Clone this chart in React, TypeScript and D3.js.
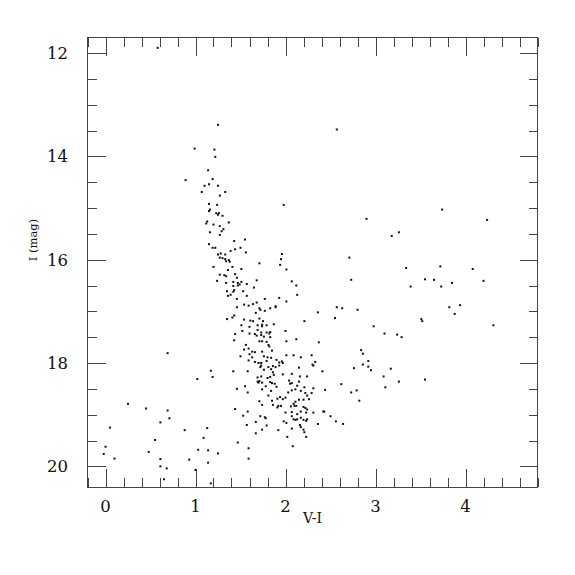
import React from 'react';
import * as d3 from 'd3';

// [V-I, I] pairs
const upperBranch: [number, number][] = [
  [0.58, 11.9], [1.25, 13.39], [0.99, 13.85], [1.21, 13.87], [1.22, 14.01], [1.14, 14.27],
  [0.89, 14.46], [1.19, 14.44], [1.15, 14.54], [1.1, 14.57], [1.25, 14.57], [1.07, 14.69],
  [1.33, 14.69], [1.27, 14.76], [1.15, 14.92], [1.24, 14.94], [1.16, 15.03], [1.15, 15.06],
  [1.23, 15.1], [1.26, 15.1], [1.25, 15.13], [1.3, 15.15], [1.13, 15.26], [1.12, 15.3],
  [1.2, 15.32], [1.37, 15.28], [1.27, 15.35], [1.31, 15.41],
];

const midBranch: [number, number][] = [
  [1.29, 15.45], [1.16, 15.47], [1.27, 15.52], [1.43, 15.64], [1.55, 15.61], [1.15, 15.7],
  [1.19, 15.77], [1.22, 15.77], [1.44, 15.8], [1.5, 15.77], [1.39, 15.83], [1.56, 15.86],
  [1.25, 15.9], [1.28, 15.88], [1.33, 15.9], [1.27, 15.96], [1.3, 15.97], [1.33, 15.99],
  [1.37, 16.01], [1.38, 16.04], [1.34, 16.03], [1.71, 16.07], [1.2, 16.14], [1.41, 16.14],
  [1.36, 16.2], [1.51, 16.18], [1.27, 16.29], [1.32, 16.3], [1.34, 16.32], [1.44, 16.28],
  [1.46, 16.35], [1.24, 16.41], [1.34, 16.45], [1.42, 16.43], [1.47, 16.45], [1.49, 16.48],
  [1.51, 16.43], [1.47, 16.5], [1.42, 16.51], [1.57, 16.47], [1.68, 16.4], [1.65, 16.54],
  [1.35, 16.61], [1.42, 16.62], [1.43, 16.59], [1.39, 16.68], [1.36, 16.7], [1.53, 16.61],
  [1.57, 16.7], [1.46, 16.76], [1.77, 16.76], [1.93, 16.74], [1.54, 16.87], [1.59, 16.89],
  [1.64, 16.86], [1.68, 16.83], [1.46, 16.92], [1.71, 16.94], [1.72, 16.97], [1.77, 16.99],
  [1.83, 16.94], [1.89, 16.92], [1.89, 16.9], [1.67, 17.03], [1.35, 17.15], [1.41, 17.12],
  [1.43, 17.08], [1.54, 17.16], [1.61, 17.18], [1.64, 17.19], [1.71, 17.14], [1.75, 17.19],
  [1.51, 17.27], [1.6, 17.3], [1.69, 17.27], [1.74, 17.26], [1.74, 17.29], [1.79, 17.27],
  [1.87, 17.25], [1.52, 17.38], [1.69, 17.36], [1.73, 17.41], [1.79, 17.41], [1.82, 17.43],
  [1.83, 17.4], [1.44, 17.44], [1.6, 17.43], [1.66, 17.44], [1.68, 17.47], [1.73, 17.46],
  [1.76, 17.49], [1.83, 17.5], [0.69, 17.81],
  [1.96, 15.89], [1.95, 15.99], [1.94, 16.1], [2.01, 16.19], [2.07, 16.42], [2.12, 16.5],
  [2.13, 16.68], [2.01, 16.81], [2.36, 17.02], [2.55, 17.13], [2.21, 17.19], [2.0, 17.38],
  [2.12, 17.54], [1.98, 14.94],
];

const clump: [number, number][] = [
  [1.43, 17.56], [1.71, 17.58], [1.74, 17.58], [1.79, 17.59], [2.01, 17.58], [2.37, 17.6],
  [1.81, 17.65], [1.56, 17.65], [1.82, 17.68], [1.59, 17.72], [1.54, 17.74], [1.63, 17.78],
  [1.66, 17.79], [1.74, 17.78], [1.85, 17.76], [1.6, 17.83], [1.5, 17.87], [1.63, 17.89],
  [1.76, 17.87], [1.8, 17.89], [1.84, 17.9], [2.01, 17.85], [2.09, 17.85], [2.17, 17.89],
  [2.29, 17.85], [1.59, 17.95], [1.66, 17.98], [1.7, 18.0], [1.73, 18.0], [1.79, 17.96],
  [1.9, 17.94], [1.93, 17.99], [1.96, 17.97], [1.97, 18.0], [1.93, 18.05], [1.86, 18.06],
  [1.73, 18.05], [1.72, 18.08], [1.81, 18.08], [1.89, 18.08], [2.3, 18.03], [2.31, 18.05],
  [2.33, 17.98], [2.15, 18.09], [1.17, 18.15], [1.42, 18.16], [1.58, 18.16], [1.76, 18.13],
  [1.84, 18.12], [1.86, 18.18], [1.87, 18.23], [1.97, 18.22], [2.07, 18.21], [2.16, 18.26],
  [2.24, 18.26], [2.41, 18.16], [1.19, 18.27], [1.69, 18.28], [1.73, 18.26], [1.8, 18.29],
  [1.83, 18.27], [1.71, 18.35], [1.69, 18.36], [1.7, 18.38], [1.74, 18.38], [1.83, 18.37],
  [1.85, 18.39], [1.88, 18.4], [1.78, 18.45], [2.04, 18.34], [2.05, 18.4], [2.07, 18.39],
  [2.15, 18.36], [2.13, 18.44], [2.21, 18.47], [2.31, 18.49], [2.44, 18.52], [1.55, 18.45],
  [1.46, 18.5], [1.58, 18.57], [1.74, 18.51], [1.84, 18.54], [1.9, 18.46], [2.03, 18.57],
  [2.07, 18.53], [2.11, 18.51], [2.17, 18.54], [2.22, 18.58], [2.24, 18.63], [2.29, 18.58],
  [2.0, 18.67], [1.97, 18.7], [1.91, 18.69], [1.94, 18.66], [1.85, 18.73], [1.81, 18.63],
  [2.15, 18.71], [2.2, 18.71], [2.26, 18.7], [1.71, 18.74], [2.11, 18.75], [2.09, 18.79],
  [1.74, 18.81], [1.86, 18.81], [1.92, 18.83], [1.95, 18.83], [1.91, 18.86], [2.06, 18.84],
  [2.1, 18.83], [2.12, 18.83], [2.2, 18.85], [2.22, 18.87], [2.24, 18.9], [2.31, 18.96],
  [2.42, 18.94], [2.43, 18.94], [1.44, 18.89], [1.58, 18.94], [1.53, 19.02], [2.0, 18.96],
  [2.07, 18.95], [2.07, 19.03], [2.13, 18.99], [2.17, 18.94], [2.23, 18.96], [1.72, 19.03],
  [1.77, 19.05], [1.78, 19.07], [1.98, 19.13], [2.01, 19.16], [2.09, 19.09], [2.11, 19.1],
  [2.13, 19.09], [2.17, 19.06], [2.2, 19.1], [2.23, 19.12], [2.24, 19.09], [2.16, 19.2],
  [2.17, 19.24], [2.36, 19.18], [1.57, 19.2], [1.67, 19.14], [1.79, 19.21], [1.92, 19.3],
  [1.74, 19.29], [1.67, 19.36], [2.2, 19.29], [2.21, 19.34], [2.23, 19.43], [2.07, 19.27],
  [1.13, 19.26], [1.09, 19.45], [2.02, 19.43], [1.47, 19.54], [2.08, 19.61], [1.59, 19.65],
  [1.14, 19.69], [1.25, 19.75], [1.59, 19.85], [1.14, 19.93], [1.17, 20.33],
];

const redScatter: [number, number][] = [
  [2.57, 13.48], [2.9, 15.21], [3.74, 15.03], [4.24, 15.23], [3.18, 15.54], [3.26, 15.47],
  [2.71, 15.96], [3.34, 16.16], [3.72, 16.13], [4.08, 16.18], [2.73, 16.39], [3.39, 16.52],
  [3.55, 16.38], [3.65, 16.39], [3.73, 16.52], [3.85, 16.45], [4.2, 16.41], [2.57, 16.92],
  [2.63, 16.94], [2.8, 16.97], [2.98, 17.29], [3.1, 17.43], [3.24, 17.45], [3.29, 17.5],
  [3.51, 17.15], [3.52, 17.19], [3.82, 16.92], [3.94, 16.88], [3.88, 17.05], [4.31, 17.27],
  [2.84, 17.75], [2.86, 17.82], [2.92, 17.96], [2.76, 18.1], [2.86, 18.03], [2.92, 18.07],
  [2.95, 18.14], [3.17, 18.11], [3.09, 18.26], [3.55, 18.32], [3.26, 18.36], [3.11, 18.47],
  [2.62, 18.41], [2.73, 18.57], [2.79, 18.53], [2.82, 18.73], [2.5, 19.03], [2.56, 19.13],
  [2.64, 19.18],
];

const blueScatter: [number, number][] = [
  [1.02, 18.31], [0.25, 18.79], [0.45, 18.88], [0.69, 18.92], [0.71, 19.07], [0.61, 19.15],
  [0.05, 19.25], [0.88, 19.3], [0.55, 19.49], [0.0, 19.62], [-0.02, 19.76], [0.1, 19.85],
  [0.48, 19.72], [0.61, 19.86], [0.61, 20.0], [0.68, 20.04], [0.65, 20.25], [0.93, 19.87],
  [1.03, 19.68], [1.0, 20.07],
];

const xTickLabels = [0, 1, 2, 3, 4];
const yTickLabels = [12, 14, 16, 18, 20];

const W = 575;
const H = 575;
const margin = { top: 37.5, right: 37.5, bottom: 88, left: 87.5 };
const font = '"DejaVu Serif", serif';
const tickColor = '#444';

export default function App() {
  const x = d3.scaleLinear().domain([-0.2, 4.8]).range([margin.left, W - margin.right]);
  const y = d3.scaleLinear().domain([11.7, 20.4]).range([margin.top, H - margin.bottom]);

  const [x0, x1] = x.range();
  const [y0, y1] = y.range();

  const xMinor = d3.range(-1, 25).map(i => +(i * 0.2).toFixed(2));
  const yMinor = d3.range(24, 41).map(i => i * 0.5);
  const isInt = (v: number) => Math.abs(v - Math.round(v)) < 1e-6;

  const points = [...upperBranch, ...midBranch, ...clump, ...redScatter, ...blueScatter];

  return (
    <svg width={W} height={H} style={{ position: 'absolute', left: 0, top: 0, background: '#fff' }}>
      <g shapeRendering="crispEdges" stroke={tickColor} strokeWidth={1}>
        {xMinor.map(v => {
          const len = isInt(v) ? 18 : 9;
          const px = Math.round(x(v)) + 0.5;
          return (
            <g key={'xt' + v}>
              <line x1={px} x2={px} y1={y1} y2={y1 - len} />
              <line x1={px} x2={px} y1={y0} y2={y0 + len} />
            </g>
          );
        })}
        {yMinor.map(v => {
          const len = v % 2 === 0 ? 18 : 9;
          const py = Math.round(y(v)) + 0.5;
          return (
            <g key={'yt' + v}>
              <line x1={x0} x2={x0 + len} y1={py} y2={py} />
              <line x1={x1} x2={x1 - len} y1={py} y2={py} />
            </g>
          );
        })}
        <rect x={x0} y={y0} width={x1 - x0} height={y1 - y0} fill="none" />
      </g>

      <g fill="#111">
        {points.map((d, i) => (
          <rect key={i} x={x(d[0]) - 1} y={y(d[1]) - 1} width={2} height={2} />
        ))}
      </g>

      <g fontFamily={font} fontSize={16.5} fill="#111">
        {xTickLabels.map(v => (
          <text key={'xl' + v} x={x(v)} y={512} textAnchor="middle">{v}</text>
        ))}
        {yTickLabels.map(v => (
          <text key={'yl' + v} x={68} y={y(v)} dy="0.36em" textAnchor="end">{v}</text>
        ))}
      </g>
      <text x={(x0 + x1) / 2} y={523} textAnchor="middle" fontFamily={font} fontSize={14} fill="#111">V-I</text>
      <text transform={`translate(37,240) rotate(-90)`} textAnchor="middle" fontFamily={font} fontSize={11.5} fill="#111">I (mag)</text>
    </svg>
  );
}
